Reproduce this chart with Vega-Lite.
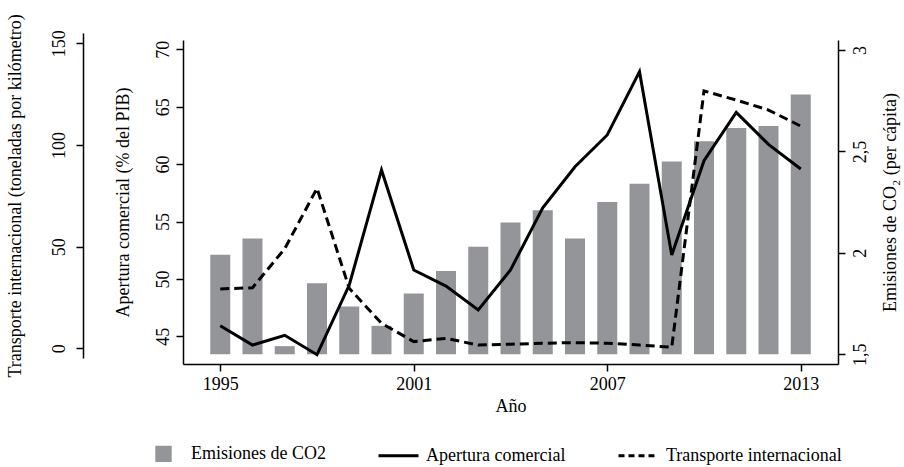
{
  "$schema": "https://vega.github.io/schema/vega-lite/v6.json",
  "autosize": {"type": "none"},
  "width": 655,
  "height": 324,
  "padding": {"left": 183, "top": 40, "right": 66, "bottom": 103},
  "background": "white",
  "data": {
    "values": [
      {"anio": 1995, "serie": "Emisiones de CO2", "valor": 1.99},
      {"anio": 1996, "serie": "Emisiones de CO2", "valor": 2.07},
      {"anio": 1997, "serie": "Emisiones de CO2", "valor": 1.54},
      {"anio": 1998, "serie": "Emisiones de CO2", "valor": 1.85},
      {"anio": 1999, "serie": "Emisiones de CO2", "valor": 1.735},
      {"anio": 2000, "serie": "Emisiones de CO2", "valor": 1.64},
      {"anio": 2001, "serie": "Emisiones de CO2", "valor": 1.8},
      {"anio": 2002, "serie": "Emisiones de CO2", "valor": 1.91},
      {"anio": 2003, "serie": "Emisiones de CO2", "valor": 2.03},
      {"anio": 2004, "serie": "Emisiones de CO2", "valor": 2.15},
      {"anio": 2005, "serie": "Emisiones de CO2", "valor": 2.21},
      {"anio": 2006, "serie": "Emisiones de CO2", "valor": 2.07},
      {"anio": 2007, "serie": "Emisiones de CO2", "valor": 2.25},
      {"anio": 2008, "serie": "Emisiones de CO2", "valor": 2.34},
      {"anio": 2009, "serie": "Emisiones de CO2", "valor": 2.45},
      {"anio": 2010, "serie": "Emisiones de CO2", "valor": 2.55},
      {"anio": 2011, "serie": "Emisiones de CO2", "valor": 2.615},
      {"anio": 2012, "serie": "Emisiones de CO2", "valor": 2.625},
      {"anio": 2013, "serie": "Emisiones de CO2", "valor": 2.78},
      {"anio": 1995, "serie": "Apertura comercial", "valor": 45.92},
      {"anio": 1996, "serie": "Apertura comercial", "valor": 44.24},
      {"anio": 1997, "serie": "Apertura comercial", "valor": 45.09},
      {"anio": 1998, "serie": "Apertura comercial", "valor": 43.4},
      {"anio": 1999, "serie": "Apertura comercial", "valor": 49.47},
      {"anio": 2000, "serie": "Apertura comercial", "valor": 59.49},
      {"anio": 2001, "serie": "Apertura comercial", "valor": 50.78},
      {"anio": 2002, "serie": "Apertura comercial", "valor": 49.38},
      {"anio": 2003, "serie": "Apertura comercial", "valor": 47.29},
      {"anio": 2004, "serie": "Apertura comercial", "valor": 50.78},
      {"anio": 2005, "serie": "Apertura comercial", "valor": 56.2},
      {"anio": 2006, "serie": "Apertura comercial", "valor": 59.77},
      {"anio": 2007, "serie": "Apertura comercial", "valor": 62.54},
      {"anio": 2008, "serie": "Apertura comercial", "valor": 68.05},
      {"anio": 2009, "serie": "Apertura comercial", "valor": 52.08},
      {"anio": 2010, "serie": "Apertura comercial", "valor": 60.3},
      {"anio": 2011, "serie": "Apertura comercial", "valor": 64.51},
      {"anio": 2012, "serie": "Apertura comercial", "valor": 61.72},
      {"anio": 2013, "serie": "Apertura comercial", "valor": 59.57},
      {"anio": 1995, "serie": "Transporte internacional", "valor": 29.2},
      {"anio": 1996, "serie": "Transporte internacional", "valor": 29.8},
      {"anio": 1997, "serie": "Transporte internacional", "valor": 49.0},
      {"anio": 1998, "serie": "Transporte internacional", "valor": 78.7},
      {"anio": 1999, "serie": "Transporte internacional", "valor": 29.5},
      {"anio": 2000, "serie": "Transporte internacional", "valor": 12.3},
      {"anio": 2001, "serie": "Transporte internacional", "valor": 3.3},
      {"anio": 2002, "serie": "Transporte internacional", "valor": 4.9},
      {"anio": 2003, "serie": "Transporte internacional", "valor": 1.6},
      {"anio": 2004, "serie": "Transporte internacional", "valor": 2.0},
      {"anio": 2005, "serie": "Transporte internacional", "valor": 2.5},
      {"anio": 2006, "serie": "Transporte internacional", "valor": 2.8},
      {"anio": 2007, "serie": "Transporte internacional", "valor": 2.5},
      {"anio": 2008, "serie": "Transporte internacional", "valor": 1.6},
      {"anio": 2009, "serie": "Transporte internacional", "valor": 0.5},
      {"anio": 2010, "serie": "Transporte internacional", "valor": 126.6},
      {"anio": 2011, "serie": "Transporte internacional", "valor": 122.1},
      {"anio": 2012, "serie": "Transporte internacional", "valor": 117.2},
      {"anio": 2013, "serie": "Transporte internacional", "valor": 109.3}
    ]
  },
  "encoding": {
    "x": {
      "field": "anio",
      "type": "quantitative",
      "scale": {"domain": [1994, 2014], "nice": false, "zero": false},
      "axis": {
        "title": "Año",
        "values": [1995, 2001, 2007, 2013],
        "format": "d",
        "labelPadding": 4,
        "titlePadding": 4
      }
    },
    "color": {
      "field": "serie",
      "type": "nominal",
      "scale": {
        "domain": ["Emisiones de CO2", "Apertura comercial", "Transporte internacional"],
        "range": ["#939598", "#000000", "#000000"]
      },
      "legend": {
        "title": null,
        "orient": "none",
        "direction": "horizontal",
        "legendX": -41,
        "legendY": 392,
        "labelFont": "Liberation Serif",
        "labelFontSize": 18,
        "labelColor": "black",
        "labelLimit": 0,
        "labelOffset": 6,
        "columnPadding": 46,
        "symbolSize": 1600,
        "symbolStrokeWidth": 3,
        "encode": {
          "symbols": {
            "update": {
              "shape": {"signal": "datum.value === 'Emisiones de CO2' ? 'square' : 'stroke'"},
              "size": {"signal": "datum.value === 'Emisiones de CO2' ? 180 : 1600"},
              "strokeDash": {"signal": "datum.value === 'Transporte internacional' ? [6, 4] : [1, 0]"},
              "strokeWidth": {"value": 3},
              "stroke": {"signal": "datum.value === 'Emisiones de CO2' ? 'transparent' : 'black'"},
              "fill": {"signal": "datum.value === 'Emisiones de CO2' ? '#939598' : 'transparent'"},
              "opacity": {"value": 1},
              "fillOpacity": {"value": 1},
              "strokeOpacity": {"value": 1}
            }
          }
        }
      }
    }
  },
  "layer": [
    {
      "transform": [{"filter": "datum.serie === 'Emisiones de CO2'"}],
      "mark": {"type": "bar", "size": 20, "opacity": 1},
      "encoding": {
        "y": {
          "field": "valor",
          "type": "quantitative",
          "scale": {"domain": [1.452, 3.049], "nice": false, "zero": false},
          "axis": {
            "orient": "right",
            "title": "Emisiones de CO₂ (per cápita)",
            "titleAngle": 270,
            "values": [1.5, 2, 2.5, 3],
            "labelExpr": "replace(format(datum.value, '.1~f'), '.', ',')",
            "labelAngle": 270,
            "labelPadding": 6,
            "titlePadding": 30
          }
        },
        "y2": {"datum": 1.5}
      }
    },
    {
      "transform": [{"filter": "datum.serie === 'Apertura comercial'"}],
      "mark": {"type": "line", "strokeWidth": 3, "strokeJoin": "miter", "strokeCap": "butt"},
      "encoding": {
        "y": {
          "field": "valor",
          "type": "quantitative",
          "scale": {"domain": [42.59, 70.81], "nice": false, "zero": false},
          "axis": {
            "orient": "left",
            "title": "Apertura comercial (% del PIB)",
            "values": [45, 50, 55, 60, 65, 70],
            "labelAngle": 270,
            "labelPadding": 4,
            "titlePadding": 22
          }
        }
      }
    },
    {
      "transform": [{"filter": "datum.serie === 'Transporte internacional'"}],
      "mark": {"type": "line", "strokeWidth": 3, "strokeDash": [9, 5], "strokeCap": "butt"},
      "encoding": {
        "y": {
          "field": "valor",
          "type": "quantitative",
          "scale": {"domain": [-4.77, 155.1], "range": [318, -7], "nice": false, "zero": false},
          "axis": {
            "orient": "left",
            "offset": 100,
            "title": "Transporte internacional (toneladas por kilómetro)",
            "values": [0, 50, 100, 150],
            "labelAngle": 270,
            "labelPadding": 8,
            "titlePadding": 26
          }
        }
      }
    }
  ],
  "resolve": {"scale": {"y": "independent"}},
  "config": {
    "font": "Liberation Serif",
    "view": {"stroke": null},
    "axis": {
      "labelFont": "Liberation Serif",
      "titleFont": "Liberation Serif",
      "labelFontSize": 18,
      "titleFontSize": 18,
      "titleFontWeight": "normal",
      "labelColor": "black",
      "titleColor": "black",
      "domainColor": "black",
      "tickColor": "black",
      "domainWidth": 1.5,
      "tickWidth": 1.5,
      "tickSize": 7,
      "grid": false
    }
  }
}
